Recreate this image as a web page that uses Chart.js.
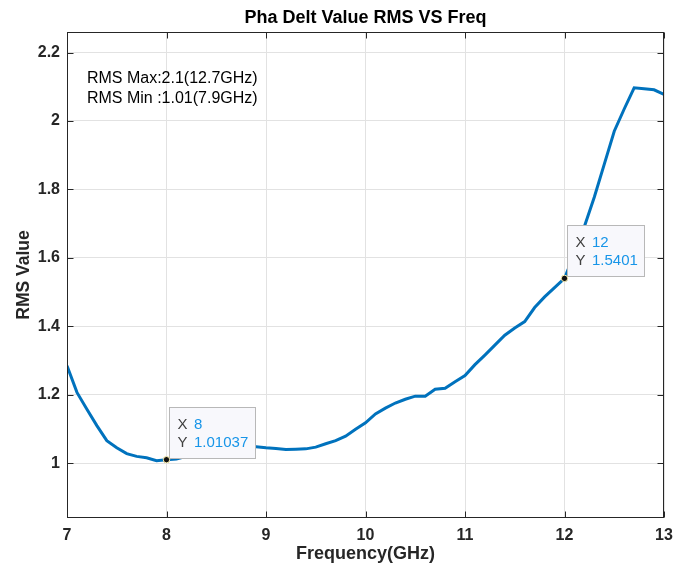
<!DOCTYPE html>
<html lang="en">
<head>
    <meta charset="UTF-8">
    <title>Pha Delt Value RMS VS Freq</title>
    <script src="https://cdn.jsdelivr.net/npm/chart.js"></script>
    <style>
        body {
            margin: 0;
            padding: 0;
            background-color: #ffffff;
        }
        .chart-box {
            width: 687px;
            height: 566px;
        }
    </style>
</head>
<body>
    <div class="chart-box"><canvas id="rmsChart"></canvas></div>

    <script>
        // Frequency points (GHz) and RMS values
        const freqs = [
            7.0, 7.1, 7.2, 7.3, 7.4, 7.5, 7.6, 7.7, 7.8, 7.9,
            8.0, 8.1, 8.2, 8.3, 8.4, 8.5, 8.6, 8.7, 8.8, 8.9,
            9.0, 9.1, 9.2, 9.3, 9.4, 9.5, 9.6, 9.7, 9.8, 9.9,
            10.0, 10.1, 10.2, 10.3, 10.4, 10.5, 10.6, 10.7, 10.8, 10.9,
            11.0, 11.1, 11.2, 11.3, 11.4, 11.5, 11.6, 11.7, 11.8, 11.9,
            12.0, 12.1, 12.2, 12.3, 12.4, 12.5, 12.6, 12.7, 12.8, 12.9,
            13.0
        ];
        const rmsValues = [
            1.285, 1.207, 1.158, 1.110, 1.066, 1.045, 1.028, 1.020, 1.016, 1.0075,
            1.01037, 1.012, 1.020, 1.030, 1.038, 1.045, 1.049, 1.051, 1.050, 1.048,
            1.045, 1.043, 1.040, 1.041, 1.042, 1.047, 1.057, 1.066, 1.079, 1.099,
            1.118, 1.144, 1.161, 1.176, 1.187, 1.196, 1.196, 1.216, 1.219, 1.238,
            1.256, 1.288, 1.316, 1.345, 1.374, 1.395, 1.414, 1.455, 1.486, 1.513,
            1.5401, 1.612, 1.692, 1.778, 1.874, 1.970, 2.035, 2.097, 2.094, 2.091,
            2.078
        ];
        const xTicks = [7, 8, 9, 10, 11, 12, 13];
        const yTicks = [1, 1.2, 1.4, 1.6, 1.8, 2, 2.2];
        const tipFreqs = [8, 12];
        const noteLines = ['RMS Max:2.1(12.7GHz)', 'RMS Min :1.01(7.9GHz)'];
        const notePos = [7.2, 2.125];

        const FONT = "'Liberation Sans', Arial, Helvetica, sans-serif";
        const AXIS_COLOR = '#262626';

        // MATLAB style box, inward ticks, note text and data tips
        const matlabAxes = {
            id: 'matlabAxes',
            afterDatasetsDraw(chart) {
                const ctx = chart.ctx;
                const xs = chart.scales.x;
                const ys = chart.scales.y;
                const a = chart.chartArea;
                const L = Math.round(a.left) + 0.5, R = Math.round(a.right) - 0.5;
                const T = Math.round(a.top) + 0.5, B = Math.round(a.bottom) - 0.5;
                const tl = 6;

                ctx.save();
                ctx.strokeStyle = AXIS_COLOR;
                ctx.lineWidth = 1;
                ctx.strokeRect(L, T, R - L, B - T);
                ctx.beginPath();
                xTicks.forEach(v => {
                    const px = Math.round(xs.getPixelForValue(v)) + 0.5;
                    ctx.moveTo(px, B); ctx.lineTo(px, B - tl);
                    ctx.moveTo(px, T); ctx.lineTo(px, T + tl);
                });
                yTicks.forEach(v => {
                    const py = Math.round(ys.getPixelForValue(v)) + 0.5;
                    ctx.moveTo(L, py); ctx.lineTo(L + tl, py);
                    ctx.moveTo(R, py); ctx.lineTo(R - tl, py);
                });
                ctx.stroke();

                // note text
                ctx.fillStyle = '#000000';
                ctx.font = '16px ' + FONT;
                ctx.textBaseline = 'middle';
                ctx.textAlign = 'left';
                const nx = xs.getPixelForValue(notePos[0]);
                const ny = ys.getPixelForValue(notePos[1]);
                noteLines.forEach((t, i) => ctx.fillText(t, nx, ny + i * 20));

                // data tips
                ctx.font = '15px ' + FONT;
                const labW = Math.max(ctx.measureText('X').width, ctx.measureText('Y').width);
                tipFreqs.forEach(f => {
                    const idx = freqs.indexOf(f);
                    const val = rmsValues[idx];
                    const px = xs.getPixelForValue(f);
                    const py = ys.getPixelForValue(val);
                    const xt = String(f), yt = String(val);
                    const valW = Math.max(ctx.measureText(xt).width, ctx.measureText(yt).width);
                    const w = Math.round(8 + labW + 6.5 + valW + 7);
                    const h = 51;
                    const bx = Math.round(px + 2) + 0.5;
                    const by = Math.round(py - 2 - h) + 0.5;

                    ctx.fillStyle = '#f8f8fc';
                    ctx.fillRect(bx, by, w, h);
                    ctx.strokeStyle = '#b8b8b8';
                    ctx.strokeRect(bx, by, w, h);

                    ctx.fillStyle = '#404040';
                    ctx.fillText('X', bx + 8, by + 17);
                    ctx.fillText('Y', bx + 8, by + 35);
                    ctx.fillStyle = '#1795e8';
                    ctx.fillText(xt, bx + 8 + labW + 6.5, by + 17);
                    ctx.fillText(yt, bx + 8 + labW + 6.5, by + 35);

                    ctx.beginPath();
                    ctx.arc(px, py, 3.2, 0, Math.PI * 2);
                    ctx.fillStyle = '#111111';
                    ctx.fill();
                    ctx.strokeStyle = '#fff3b0';
                    ctx.lineWidth = 1;
                    ctx.stroke();
                });
                ctx.restore();
            }
        };

        const ctx = document.getElementById('rmsChart').getContext('2d');
        const rmsChart = new Chart(ctx, {
            type: 'line',
            data: {
                datasets: [{
                    label: 'RMS',
                    data: freqs.map((f, i) => ({ x: f, y: rmsValues[i] })),
                    borderColor: '#0072bd',
                    borderWidth: 3,
                    pointRadius: 0,
                    tension: 0,
                    fill: false
                }]
            },
            options: {
                responsive: true,
                maintainAspectRatio: false,
                animation: false,
                layout: {
                    padding: { top: 0, right: 23, left: 0, bottom: 0 }
                },
                plugins: {
                    legend: { display: false },
                    tooltip: { enabled: false },
                    title: {
                        display: true,
                        text: 'Pha Delt Value RMS VS Freq',
                        fullSize: false,
                        color: '#000000',
                        font: { family: FONT, size: 18, weight: 'bold' },
                        padding: { top: 7, bottom: 3.4 }
                    }
                },
                scales: {
                    x: {
                        type: 'linear',
                        min: 7,
                        max: 13,
                        afterBuildTicks: s => { s.ticks = xTicks.map(v => ({ value: v })); },
                        afterFit: s => { s.height = 48; },
                        grid: { color: '#e2e2e2', drawTicks: false },
                        border: { display: false },
                        ticks: {
                            color: AXIS_COLOR,
                            padding: 8,
                            maxRotation: 0,
                            callback: v => String(v),
                            font: { family: FONT, size: 16, weight: 'bold' }
                        },
                        title: {
                            display: true,
                            text: 'Frequency(GHz)',
                            color: AXIS_COLOR,
                            font: { family: FONT, size: 18, weight: 'bold' },
                            padding: { top: 0, bottom: 1 }
                        }
                    },
                    y: {
                        min: 0.84,
                        max: 2.26,
                        afterBuildTicks: s => { s.ticks = yTicks.map(v => ({ value: v })); },
                        afterFit: s => { s.width = 67; },
                        grid: { color: '#e2e2e2', drawTicks: false },
                        border: { display: false },
                        ticks: {
                            color: AXIS_COLOR,
                            padding: 7,
                            callback: v => String(v),
                            font: { family: FONT, size: 16, weight: 'bold' }
                        },
                        title: {
                            display: true,
                            text: 'RMS Value',
                            color: AXIS_COLOR,
                            font: { family: FONT, size: 17.5, weight: 'bold' },
                            padding: { top: 14, bottom: 0 }
                        }
                    }
                }
            },
            plugins: [matlabAxes]
        });
    </script>
</body>
</html>
